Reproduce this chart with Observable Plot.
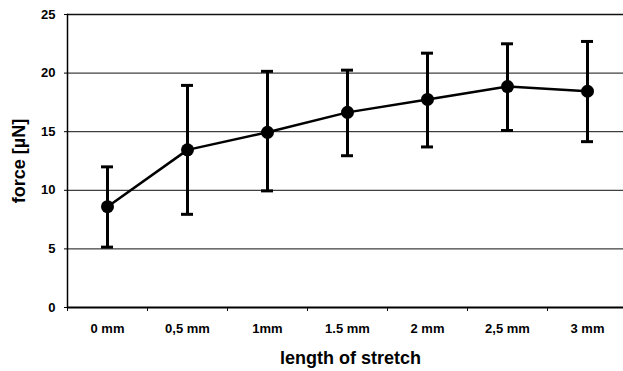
<!DOCTYPE html>
<html>
<head>
<meta charset="utf-8">
<script src="https://cdn.jsdelivr.net/npm/d3@7"></script>
<script src="https://cdn.jsdelivr.net/npm/@observablehq/plot@0.6"></script>
<style>
  html, body { margin: 0; padding: 0; background: #fff; }
</style>
</head>
<body>
<div id="chart"></div>
<script>
const lengths = ["0 mm", "0,5 mm", "1mm", "1.5 mm", "2 mm", "2,5 mm", "3 mm"];
const force   = [8.6, 13.45, 14.95, 16.65, 17.75, 18.85, 18.45];
const errHigh = [12.0, 18.95, 20.15, 20.25, 21.7, 22.5, 22.7];
const errLow  = [5.15, 7.95, 9.95, 12.95, 13.7, 15.1, 14.15];
const yTicks  = [0, 5, 10, 15, 20, 25];

const data = lengths.map((l, i) => ({len: l, force: force[i], hi: errHigh[i], lo: errLow[i]}));

const chart = Plot.plot({
  width: 623,
  height: 371,
  marginLeft: 67,
  marginRight: 0,
  marginTop: 14,
  marginBottom: 64,
  style: {fontFamily: "'Liberation Sans', Arial, sans-serif", fontWeight: "bold", fontSize: "13px", color: "#000", background: "#fff"},
  x: {domain: lengths, range: [67, 627], padding: 0},
  y: {domain: [0, 25], range: [307, 14]},
  marks: [
    Plot.ruleY([5, 10, 15, 20], {stroke: "#111", strokeWidth: 1}),
    Plot.ruleY([25], {stroke: "#111", strokeWidth: 1.5}),
    Plot.frame({anchor: "left", stroke: "#000", strokeWidth: 1.5}),
    Plot.ruleY([0], {stroke: "#000", strokeWidth: 2}),
    Plot.axisY({ticks: yTicks, tickSize: 3, tickPadding: 9, label: null, fontWeight: "bold", fontSize: 13}),
    Plot.axisX({tickSize: 0, tickPadding: 16, label: null, fontWeight: "bold", fontSize: 13, style: "letter-spacing: 1px"}),
    Plot.ruleX(lengths, {x: d => d, y1: 0, y2: 0, dx: -40, insetBottom: -4, stroke: "#000", strokeWidth: 1}),
    Plot.text(["force [µN]"], {frameAnchor: "left", textAnchor: "middle", lineAnchor: "middle", dx: -48, rotate: -90, fontSize: 18, fontWeight: "bold", fill: "#000", style: "letter-spacing: 0.6px"}),
    Plot.text(["length of stretch"], {frameAnchor: "bottom", textAnchor: "middle", lineAnchor: "middle", dx: 5, dy: 51, fontSize: 18, fontWeight: "bold", fill: "#000", style: "letter-spacing: 0.6px"}),
    Plot.ruleX(data, {x: "len", y1: "lo", y2: "hi", stroke: "#000", strokeWidth: 3}),
    Plot.tickY(data, {x: "len", y: "hi", insetLeft: 34, insetRight: 34, stroke: "#000", strokeWidth: 3}),
    Plot.tickY(data, {x: "len", y: "lo", insetLeft: 34, insetRight: 34, stroke: "#000", strokeWidth: 3}),
    Plot.line(data, {x: "len", y: "force", stroke: "#000", strokeWidth: 2.5}),
    Plot.dot(data, {x: "len", y: "force", r: 6.5, fill: "#000", stroke: "none"})
  ]
});
document.getElementById("chart").appendChild(chart);
</script>
</body>
</html>
